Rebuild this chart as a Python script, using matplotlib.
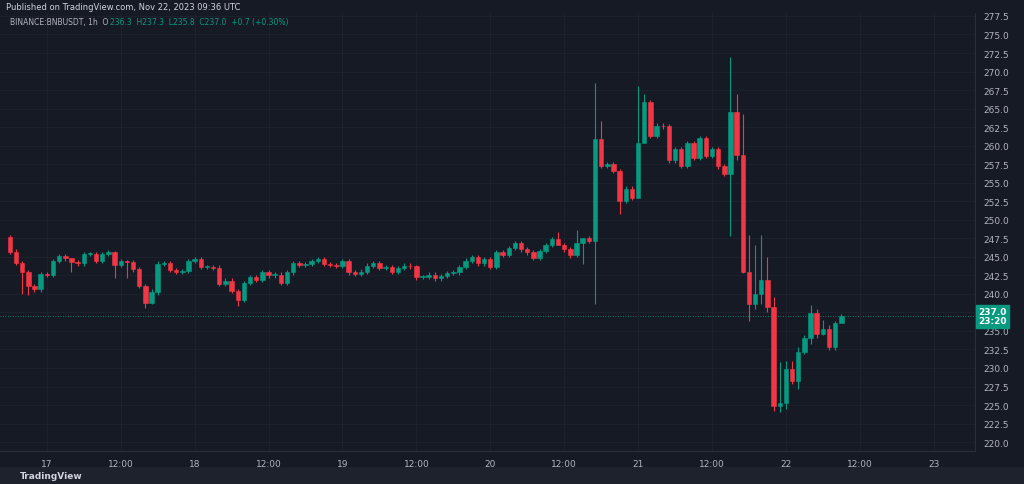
import matplotlib.pyplot as plt
from matplotlib.patches import Rectangle

BG = "#161a25"
UP = "#089981"
DOWN = "#f23645"
TXT = "#b2b5be"
GRID = "#1f2330"

first_open = 247.7
closes = [
    245.7, 244.2, 242.9, 241.0, 240.6, 242.7, 242.6, 244.4, 245.1, 244.8,
    244.3, 244.1, 245.4, 245.4, 244.4, 245.4, 245.6, 243.9, 244.4, 244.3,
    243.3, 241.1, 238.8, 240.2, 244.0, 244.2, 243.2, 243.0, 243.1, 244.4,
    244.7,
    243.6, 243.6, 243.5, 241.3, 241.8, 240.4, 239.2, 241.5, 242.3, 241.9,
    242.9, 242.5, 242.6, 241.5, 242.9, 244.1, 243.9, 244.0, 244.4, 244.7,
    244.0, 243.9, 243.8, 244.4, 242.9, 242.7, 243.0, 243.8, 244.1, 243.5,
    243.6,
    243.0, 243.5, 243.8, 243.7, 242.3, 242.3, 242.6, 242.1, 242.4, 242.8,
    242.9, 243.6, 244.5, 245.0, 244.1, 244.7, 243.6, 245.6, 245.3, 246.2,
    246.8, 246.0, 245.6, 244.9, 245.8, 246.6, 247.4, 246.6, 246.0, 245.2,
    246.8, 247.5, 247.2,
    260.9, 257.3, 257.5, 256.6, 252.6, 254.2, 253.0, 260.4, 265.85, 261.35,
    262.7, 262.6, 258.0, 259.5, 257.3, 260.3, 258.4, 261.0, 258.6, 259.5,
    257.2, 256.2, 264.5, 258.7, 243.0, 238.6, 240.0, 241.9, 238.2, 224.9,
    225.3, 229.9, 228.3, 232.2, 234.1, 237.4, 234.6, 235.3, 232.9, 236.1,
    237.0,
]
# notable wicks: index -> (high, low)
wicks = {
    2: (244.5, 240.0), 3: (243.2, 239.9), 10: (244.9, 243.0), 17: (245.8, 242.2),
    19: (244.6, 242.2), 22: (241.4, 238.1), 23: (240.6, 238.6), 24: (244.4, 239.8),
    37: (240.6, 238.3), 34: (243.9, 241.0), 66: (243.9, 241.9), 89: (248.3, 247.0),
    92: (248.6, 245.0), 93: (247.0, 244.0), 95: (268.5, 238.6), 96: (263.3, 257.0),
    99: (256.8, 250.8), 102: (268.0, 260.0), 103: (267.0, 260.8), 117: (271.9, 247.8),
    118: (267.0, 258.0), 119: (264.3, 242.8), 120: (248.0, 236.4), 121: (246.6, 238.0),
    122: (248.0, 238.7), 123: (245.0, 237.5), 124: (239.6, 224.2), 125: (230.8, 224.0),
    126: (231.0, 224.5), 127: (231.0, 227.8), 128: (232.8, 227.2), 130: (238.5, 233.2),
    131: (237.9, 234.0), 132: (236.5, 234.5), 133: (235.8, 232.4), 134: (236.4, 232.4),
    135: (237.3, 236.2),
}
ytick_vals = [220.0 + 2.5 * k for k in range(24)]
day_labels = ["17", "12:00", "18", "12:00", "19", "12:00", "20", "12:00",
              "21", "12:00", "22", "12:00", "23"]
day0_index = 6  # candle index of Nov 17 00:00

fig = plt.figure(figsize=(10.24, 4.85), dpi=100, facecolor=BG)
ax = fig.add_axes([0, 33 / 485, 975 / 1024, 438 / 485], facecolor=BG)

opens = [first_open] + closes[:-1]
for i, (o, c) in enumerate(zip(opens, closes)):
    col = UP if c >= o else DOWN
    hi, lo = wicks.get(i, (max(o, c) + 0.3, min(o, c) - 0.3))
    ax.vlines(i, lo, hi, color=col, linewidth=0.8, zorder=2)
    bot, h = min(o, c), max(abs(c - o), 0.12)
    ax.add_patch(Rectangle((i - 0.36, bot), 0.72, h, facecolor=col,
                           edgecolor=col, linewidth=0.4, zorder=3))

ax.set_xlim(-1.6, 156.7)
ax.set_ylim(218.8, 277.9)
xt = [day0_index + 12 * k for k in range(len(day_labels))]
ax.set_xticks(xt)
ax.set_xticklabels(day_labels)
ax.set_yticks(ytick_vals)
ax.set_yticklabels([f"{v:.1f}" for v in ytick_vals])
ax.yaxis.tick_right()
ax.tick_params(colors=TXT, labelsize=6.5, length=0, pad=6)
ax.grid(True, color=GRID, linewidth=0.6, zorder=0)
for s in ax.spines.values():
    s.set_visible(False)
ax.spines["right"].set_visible(True)
ax.spines["right"].set_color("#2a2e39")
ax.spines["bottom"].set_visible(True)
ax.spines["bottom"].set_color("#2a2e39")

last = closes[-1]
ax.axhline(last, color=UP, linewidth=0.6, linestyle=(0, (1, 2)), zorder=1)
ax.text(1.003, last, "237.0\n23:20", transform=ax.get_yaxis_transform(),
        ha="left", va="center", fontsize=6.5, color="white", fontweight="bold",
        linespacing=1.1,
        bbox=dict(boxstyle="square,pad=0.25", facecolor=UP, edgecolor=UP),
        clip_on=False, zorder=5)

fig.text(6 / 1024, 1 - 8 / 485, "Published on TradingView.com, Nov 22, 2023 09:36 UTC",
         color="#d1d4dc", fontsize=6, va="center")
t1 = fig.text(10 / 1024, 1 - 23 / 485, "BINANCE:BNBUSDT, 1h  O", color=TXT,
              fontsize=5.5, va="center")
plt.annotate("236.3  H237.3  L235.8  C237.0  +0.7 (+0.30%)", xy=(1, 0.5),
             xycoords=t1, xytext=(1, 0), textcoords="offset points",
             color=UP, fontsize=5.5, va="center", ha="left",
             annotation_clip=False)
fig.add_artist(Rectangle((0, 0), 1, 17 / 485, transform=fig.transFigure,
                         facecolor="#1e222d", edgecolor="none"))
fig.text(20 / 1024, 8 / 485, "TradingView", color="#d1d4dc", fontsize=6.5,
         fontweight="bold", va="center")

fig.savefig("out.png", dpi=100, facecolor=BG)
